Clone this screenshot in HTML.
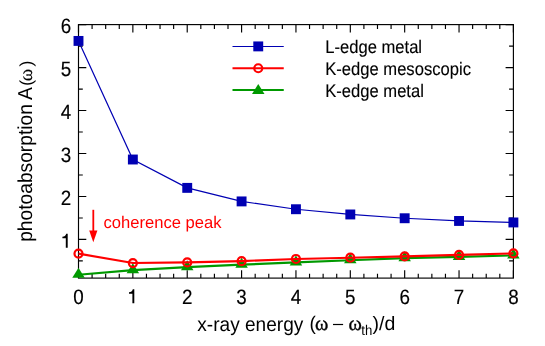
<!DOCTYPE html>
<html><head><meta charset="utf-8"><title>chart</title>
<style>html,body{margin:0;padding:0;background:#fff;}body{width:545px;height:346px;position:relative;overflow:hidden;font-family:"Liberation Sans",sans-serif;}</style></head>
<body>
<svg width="545" height="346" viewBox="0 0 545 346" style="position:absolute;left:0;top:0;will-change:transform" text-rendering="geometricPrecision">
<rect width="545" height="346" fill="#fff"/>
<g stroke="#000" stroke-width="1.15" fill="none" stroke-linecap="butt">
<rect x="78.5" y="24.6" width="434.9" height="253.50000000000003"/>
<path d="M78.50 278.1 v-7.8 M78.50 24.6 v7.8"/>
<path d="M92.09 278.1 v-4.3 M92.09 24.6 v4.3"/>
<path d="M105.68 278.1 v-4.3 M105.68 24.6 v4.3"/>
<path d="M119.27 278.1 v-4.3 M119.27 24.6 v4.3"/>
<path d="M132.86 278.1 v-7.8 M132.86 24.6 v7.8"/>
<path d="M146.45 278.1 v-4.3 M146.45 24.6 v4.3"/>
<path d="M160.04 278.1 v-4.3 M160.04 24.6 v4.3"/>
<path d="M173.63 278.1 v-4.3 M173.63 24.6 v4.3"/>
<path d="M187.22 278.1 v-7.8 M187.22 24.6 v7.8"/>
<path d="M200.82 278.1 v-4.3 M200.82 24.6 v4.3"/>
<path d="M214.41 278.1 v-4.3 M214.41 24.6 v4.3"/>
<path d="M228.00 278.1 v-4.3 M228.00 24.6 v4.3"/>
<path d="M241.59 278.1 v-7.8 M241.59 24.6 v7.8"/>
<path d="M255.18 278.1 v-4.3 M255.18 24.6 v4.3"/>
<path d="M268.77 278.1 v-4.3 M268.77 24.6 v4.3"/>
<path d="M282.36 278.1 v-4.3 M282.36 24.6 v4.3"/>
<path d="M295.95 278.1 v-7.8 M295.95 24.6 v7.8"/>
<path d="M309.54 278.1 v-4.3 M309.54 24.6 v4.3"/>
<path d="M323.13 278.1 v-4.3 M323.13 24.6 v4.3"/>
<path d="M336.72 278.1 v-4.3 M336.72 24.6 v4.3"/>
<path d="M350.31 278.1 v-7.8 M350.31 24.6 v7.8"/>
<path d="M363.90 278.1 v-4.3 M363.90 24.6 v4.3"/>
<path d="M377.49 278.1 v-4.3 M377.49 24.6 v4.3"/>
<path d="M391.08 278.1 v-4.3 M391.08 24.6 v4.3"/>
<path d="M404.67 278.1 v-7.8 M404.67 24.6 v7.8"/>
<path d="M418.27 278.1 v-4.3 M418.27 24.6 v4.3"/>
<path d="M431.86 278.1 v-4.3 M431.86 24.6 v4.3"/>
<path d="M445.45 278.1 v-4.3 M445.45 24.6 v4.3"/>
<path d="M459.04 278.1 v-7.8 M459.04 24.6 v7.8"/>
<path d="M472.63 278.1 v-4.3 M472.63 24.6 v4.3"/>
<path d="M486.22 278.1 v-4.3 M486.22 24.6 v4.3"/>
<path d="M499.81 278.1 v-4.3 M499.81 24.6 v4.3"/>
<path d="M513.40 278.1 v-7.8 M513.40 24.6 v7.8"/>
<path d="M78.5 260.91 h4.3 M513.4 260.91 h-4.3"/>
<path d="M78.5 239.43 h7.8 M513.4 239.43 h-7.8"/>
<path d="M78.5 217.95 h4.3 M513.4 217.95 h-4.3"/>
<path d="M78.5 196.46 h7.8 M513.4 196.46 h-7.8"/>
<path d="M78.5 174.98 h4.3 M513.4 174.98 h-4.3"/>
<path d="M78.5 153.50 h7.8 M513.4 153.50 h-7.8"/>
<path d="M78.5 132.02 h4.3 M513.4 132.02 h-4.3"/>
<path d="M78.5 110.53 h7.8 M513.4 110.53 h-7.8"/>
<path d="M78.5 89.05 h4.3 M513.4 89.05 h-4.3"/>
<path d="M78.5 67.57 h7.8 M513.4 67.57 h-7.8"/>
<path d="M78.5 46.08 h4.3 M513.4 46.08 h-4.3"/>
<path d="M78.5 24.60 h7.8 M513.4 24.60 h-7.8"/>
</g>
<polyline points="78.50,274.75 132.86,270.19 187.22,267.14 241.59,264.69 295.95,262.42 350.31,260.23 404.67,258.16 459.04,256.87 513.40,255.41" fill="none" stroke="#009900" stroke-width="2.2"/>
<path d="M78.50 267.75 L84.75 277.87 L72.25 277.87 Z" fill="#009900"/>
<path d="M132.86 263.19 L139.11 273.32 L126.61 273.32 Z" fill="#009900"/>
<path d="M187.22 260.14 L193.47 270.27 L180.97 270.27 Z" fill="#009900"/>
<path d="M241.59 257.69 L247.84 267.82 L235.34 267.82 Z" fill="#009900"/>
<path d="M295.95 255.42 L302.20 265.54 L289.70 265.54 Z" fill="#009900"/>
<path d="M350.31 253.23 L356.56 263.35 L344.06 263.35 Z" fill="#009900"/>
<path d="M404.67 251.16 L410.92 261.29 L398.42 261.29 Z" fill="#009900"/>
<path d="M459.04 249.87 L465.29 260.00 L452.79 260.00 Z" fill="#009900"/>
<path d="M513.40 248.41 L519.65 258.54 L507.15 258.54 Z" fill="#009900"/>
<polyline points="78.50,253.61 132.86,263.06 187.22,262.42 241.59,261.13 295.95,258.98 350.31,257.69 404.67,256.40 459.04,254.90 513.40,253.39" fill="none" stroke="#ff0000" stroke-width="2.1"/>
<circle cx="78.50" cy="253.61" r="4.0" fill="none" stroke="#ff0000" stroke-width="2.2"/>
<circle cx="132.86" cy="263.06" r="4.0" fill="none" stroke="#ff0000" stroke-width="2.2"/>
<circle cx="187.22" cy="262.42" r="4.0" fill="none" stroke="#ff0000" stroke-width="2.2"/>
<circle cx="241.59" cy="261.13" r="4.0" fill="none" stroke="#ff0000" stroke-width="2.2"/>
<circle cx="295.95" cy="258.98" r="4.0" fill="none" stroke="#ff0000" stroke-width="2.2"/>
<circle cx="350.31" cy="257.69" r="4.0" fill="none" stroke="#ff0000" stroke-width="2.2"/>
<circle cx="404.67" cy="256.40" r="4.0" fill="none" stroke="#ff0000" stroke-width="2.2"/>
<circle cx="459.04" cy="254.90" r="4.0" fill="none" stroke="#ff0000" stroke-width="2.2"/>
<circle cx="513.40" cy="253.39" r="4.0" fill="none" stroke="#ff0000" stroke-width="2.2"/>
<polyline points="78.50,40.93 132.86,159.51 187.22,187.87 241.59,201.41 295.95,209.23 350.31,214.47 404.67,218.25 459.04,220.96 513.40,222.46" fill="none" stroke="#0000b3" stroke-width="1.2"/>
<rect x="73.55" y="35.98" width="9.9" height="9.9" fill="#0000b3"/>
<rect x="127.91" y="154.56" width="9.9" height="9.9" fill="#0000b3"/>
<rect x="182.28" y="182.92" width="9.9" height="9.9" fill="#0000b3"/>
<rect x="236.64" y="196.46" width="9.9" height="9.9" fill="#0000b3"/>
<rect x="291.00" y="204.28" width="9.9" height="9.9" fill="#0000b3"/>
<rect x="345.36" y="209.52" width="9.9" height="9.9" fill="#0000b3"/>
<rect x="399.72" y="213.30" width="9.9" height="9.9" fill="#0000b3"/>
<rect x="454.09" y="216.01" width="9.9" height="9.9" fill="#0000b3"/>
<rect x="508.45" y="217.51" width="9.9" height="9.9" fill="#0000b3"/>
<path d="M232.5 46.5 H283.75" stroke="#0000b3" stroke-width="1.2"/>
<rect x="253.30" y="41.45" width="9.9" height="9.9" fill="#0000b3"/>
<path d="M232.5 68.25 H283.75" stroke="#ff0000" stroke-width="2.1"/>
<circle cx="258.25" cy="68.25" r="4.0" fill="none" stroke="#ff0000" stroke-width="2.2"/>
<path d="M232.5 90 H283.75" stroke="#009900" stroke-width="2.2"/>
<path d="M258.25 83.95 L264.50 94.08 L252.00 94.08 Z" fill="#009900"/>
<path d="M93.3 209.8 V232" stroke="#ff0000" stroke-width="1.8"/>
<path d="M89.2 230.6 L97.4 230.6 L93.3 242.2 Z" fill="#ff0000"/>
<text transform="translate(78.50 303.7) scale(0.96 1.06)" font-family="Liberation Sans, sans-serif" font-size="19.6" stroke="#000" stroke-width="0.15" text-anchor="middle">0</text>
<path d="M132.80 289.30 L134.30 289.30 L134.30 303.30 L132.40 303.30 L132.40 293.70 L129.00 293.70 L129.00 292.30 C131.00 292.30 132.40 291.20 132.80 289.30 Z" fill="#000"/>
<text transform="translate(187.22 303.7) scale(0.96 1.06)" font-family="Liberation Sans, sans-serif" font-size="19.6" stroke="#000" stroke-width="0.15" text-anchor="middle">2</text>
<text transform="translate(241.59 303.7) scale(0.96 1.06)" font-family="Liberation Sans, sans-serif" font-size="19.6" stroke="#000" stroke-width="0.15" text-anchor="middle">3</text>
<text transform="translate(295.95 303.7) scale(0.96 1.06)" font-family="Liberation Sans, sans-serif" font-size="19.6" stroke="#000" stroke-width="0.15" text-anchor="middle">4</text>
<text transform="translate(350.31 303.7) scale(0.96 1.06)" font-family="Liberation Sans, sans-serif" font-size="19.6" stroke="#000" stroke-width="0.15" text-anchor="middle">5</text>
<text transform="translate(404.67 303.7) scale(0.96 1.06)" font-family="Liberation Sans, sans-serif" font-size="19.6" stroke="#000" stroke-width="0.15" text-anchor="middle">6</text>
<text transform="translate(459.04 303.7) scale(0.96 1.06)" font-family="Liberation Sans, sans-serif" font-size="19.6" stroke="#000" stroke-width="0.15" text-anchor="middle">7</text>
<text transform="translate(513.40 303.7) scale(0.96 1.06)" font-family="Liberation Sans, sans-serif" font-size="19.6" stroke="#000" stroke-width="0.15" text-anchor="middle">8</text>
<path d="M66.20 233.80 L67.70 233.80 L67.70 247.80 L65.80 247.80 L65.80 238.20 L62.40 238.20 L62.40 236.80 C64.40 236.80 65.80 235.70 66.20 233.80 Z" fill="#000"/>
<text transform="translate(71.2 204.56) scale(0.96 1.06)" font-family="Liberation Sans, sans-serif" font-size="19.6" stroke="#000" stroke-width="0.15" text-anchor="end">2</text>
<text transform="translate(71.2 161.60) scale(0.96 1.06)" font-family="Liberation Sans, sans-serif" font-size="19.6" stroke="#000" stroke-width="0.15" text-anchor="end">3</text>
<text transform="translate(71.2 118.63) scale(0.96 1.06)" font-family="Liberation Sans, sans-serif" font-size="19.6" stroke="#000" stroke-width="0.15" text-anchor="end">4</text>
<text transform="translate(71.2 75.67) scale(0.96 1.06)" font-family="Liberation Sans, sans-serif" font-size="19.6" stroke="#000" stroke-width="0.15" text-anchor="end">5</text>
<text transform="translate(71.2 32.70) scale(0.96 1.06)" font-family="Liberation Sans, sans-serif" font-size="19.6" stroke="#000" stroke-width="0.15" text-anchor="end">6</text>
<text transform="translate(325.2 53) scale(1 1.09)" font-family="Liberation Sans, sans-serif" font-size="16.6" stroke="#000" stroke-width="0.12">L-edge metal</text>
<text transform="translate(325.2 74.8) scale(1 1.09)" font-family="Liberation Sans, sans-serif" font-size="16.6" stroke="#000" stroke-width="0.12">K-edge mesoscopic</text>
<text transform="translate(325.2 96.6) scale(1 1.09)" font-family="Liberation Sans, sans-serif" font-size="16.6" stroke="#000" stroke-width="0.12">K-edge metal</text>
<text transform="translate(103.5 228.4) scale(1 1.01)" font-family="Liberation Sans, sans-serif" font-size="16.6" fill="#ff0000">coherence peak</text>
<text transform="translate(197.3 330.5) scale(1 1.05)" font-family="Liberation Sans, sans-serif" font-size="19.08">x-ray energy</text>
<text transform="translate(309.4 329.8) scale(1 1.03)" font-family="Liberation Sans, sans-serif" font-size="19.08">(</text>
<text x="315.0" y="330.1" font-family="Liberation Serif, serif" stroke="#000" stroke-width="0.35" font-size="20.3">ω</text>
<path d="M333.0 324.5 H343.1" stroke="#000" stroke-width="1.2"/>
<text x="348.6" y="330.1" font-family="Liberation Serif, serif" stroke="#000" stroke-width="0.35" font-size="20.3">ω</text>
<text transform="translate(361.3 334.5) scale(1 1.07)" font-family="Liberation Sans, sans-serif" font-size="13.2">th</text>
<text transform="translate(372.5 329.9) scale(1 1.0)" font-family="Liberation Sans, sans-serif" font-size="19.5">)/d</text>
<g transform="translate(32.2 241.8) rotate(-90)">
<text transform="scale(1 1.05)" font-family="Liberation Sans, sans-serif" font-size="19.2">photoabsorption A</text>
<text x="156.0" y="-0.3" font-family="Liberation Sans, sans-serif" font-size="17.4">(</text>
<text x="160.5" y="-0.3" font-family="Liberation Serif, serif" stroke="#000" stroke-width="0.15" font-size="18.8">ω</text>
<text x="175.3" y="-0.3" font-family="Liberation Sans, sans-serif" font-size="17.4">)</text>
</g>
</svg>
</body></html>
